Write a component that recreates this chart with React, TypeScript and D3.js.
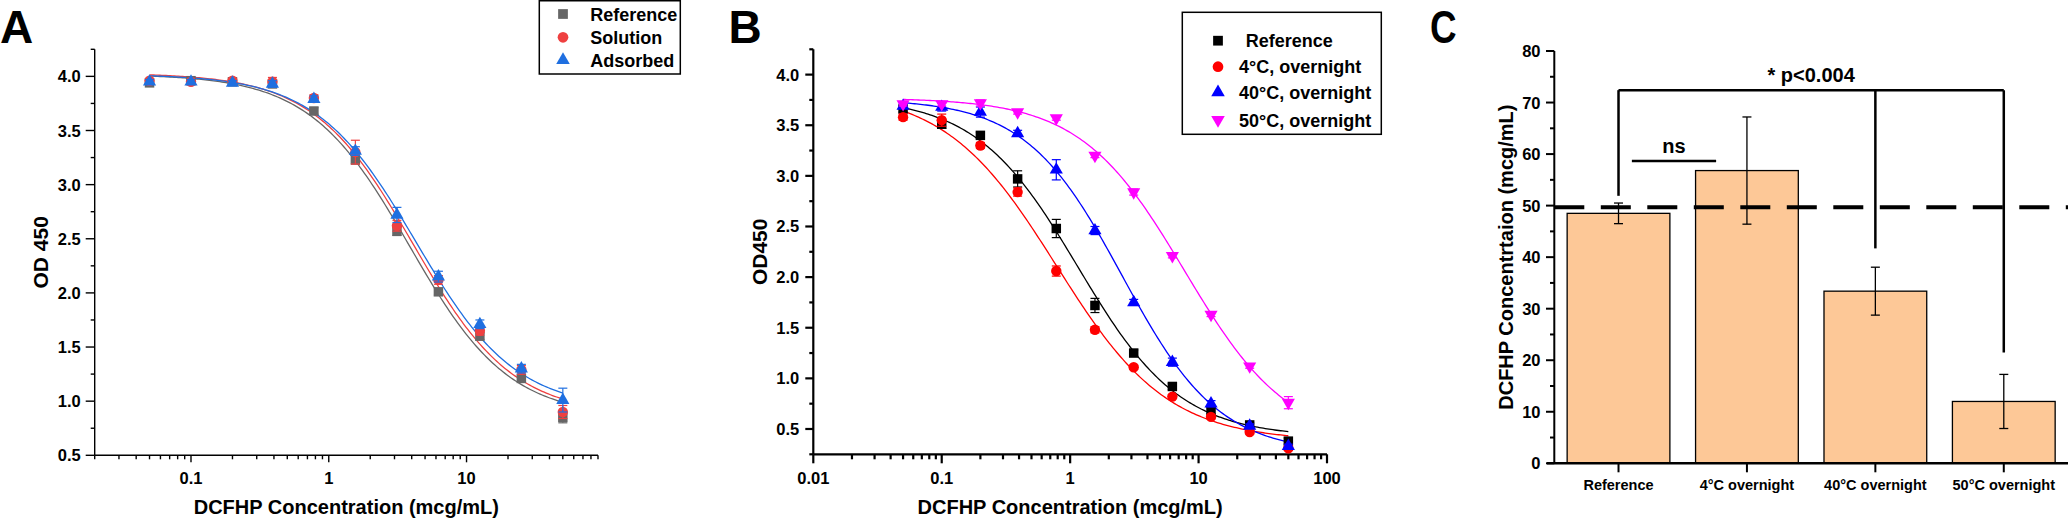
import * as d3 from 'd3';

const FONT = '"Liberation Sans", Arial, Helvetica, sans-serif';

// dilution series shared by panels A and B (mcg/mL)
const conc = [0.05, 0.1, 0.2, 0.39, 0.78, 1.56, 3.125, 6.25, 12.5, 25, 50];

// Panel A: OD 450 by formulation
const aReference = [3.94, 3.96, 3.95, 3.93, 3.68, 3.23, 2.57, 2.01, 1.6, 1.21, 0.85];
const aSolution = [3.96, 3.95, 3.96, 3.95, 3.8, 3.3, 2.62, 2.12, 1.65, 1.29, 0.9];
const aAdsorbed = [3.95, 3.95, 3.94, 3.93, 3.79, 3.31, 2.72, 2.15, 1.71, 1.3, 1.01];
const aReferenceErr = [0.02, 0.02, 0.02, 0.03, 0.03, 0.04, 0.04, 0.03, 0.03, 0.03, 0.05];
const aSolutionErr = [0.02, 0.02, 0.02, 0.04, 0.03, 0.11, 0.05, 0.04, 0.04, 0.04, 0.06];
const aAdsorbedErr = [0.02, 0.02, 0.02, 0.03, 0.03, 0.04, 0.07, 0.05, 0.04, 0.04, 0.11];
// 4PL fit parameters: [top, bottom, EC50, hill]
const aReferenceFit = [4.02, 0.85, 3.85, 1.2];
const aSolutionFit = [4.03, 0.87, 4.1, 1.2];
const aAdsorbedFit = [4.02, 0.92, 4.3, 1.2];

// Panel B: OD450 after overnight storage
const bReference = [3.66, 3.51, 3.4, 2.97, 2.48, 1.72, 1.25, 0.92, 0.68, 0.54, 0.38];
const b4C = [3.58, 3.55, 3.3, 2.84, 2.06, 1.48, 1.11, 0.82, 0.62, 0.47, 0.31];
const b40C = [3.69, 3.68, 3.63, 3.42, 3.06, 2.46, 1.75, 1.16, 0.75, 0.53, 0.33];
const b50C = [3.71, 3.71, 3.72, 3.63, 3.57, 3.2, 2.84, 2.21, 1.63, 1.12, 0.76];
const bReferenceErr = [0.03, 0.04, 0.03, 0.08, 0.09, 0.07, 0.03, 0.03, 0.03, 0.02, 0.03];
const b4CErr = [0.03, 0.06, 0.03, 0.04, 0.05, 0.03, 0.02, 0.02, 0.02, 0.02, 0.02];
const b40CErr = [0.02, 0.04, 0.05, 0.03, 0.1, 0.04, 0.03, 0.04, 0.03, 0.02, 0.02];
const b50CErr = [0.02, 0.02, 0.03, 0.02, 0.02, 0.02, 0.03, 0.02, 0.02, 0.02, 0.06];
const bReferenceFit = [3.78, 0.42, 1.15, 1.09];
const b4CFit = [3.85, 0.38, 0.78, 1.0];
const b40CFit = [3.76, 0.26, 2.55, 1.15];
const b50CFit = [3.77, 0.35, 7.8, 1.07];

const aXTicks = [0.1, 1, 10];
const bXTicks = [0.01, 0.1, 1, 10, 100];
const aYTicks = [0.5, 1.0, 1.5, 2.0, 2.5, 3.0, 3.5, 4.0];
const bYTicks = [0.5, 1.0, 1.5, 2.0, 2.5, 3.0, 3.5, 4.0];

// Panel C: recovered DCFHP concentration
const cCategories = ['Reference', '4°C overnight', '40°C overnight', '50°C overnight'];
const cValues = [48.5, 56.8, 33.4, 12.0];
const cErrors = [2.0, 10.4, 4.65, 5.25];
const cCutoff = 49.7;
const cYTicks = [0, 10, 20, 30, 40, 50, 60, 70, 80];
const cBracketTop = 72.4;
const cBracketDrops = [51.9, 41.7, 21.5]; // Reference, 40°C, 50°C
const cNsLevel = 58.65;

const fourPL = (p: number[], x: number) => p[1] + (p[0] - p[1]) / (1 + Math.pow(x / p[2], p[3]));

const symbolPath = (shape: string, size: number) => {
  const type = shape === 'square' ? d3.symbolSquare : shape === 'circle' ? d3.symbolCircle : d3.symbolTriangle;
  return d3.symbol().type(type).size(size)() as string;
};

const Marker = ({ shape, x, y, color, size }: any) => (
  <path
    d={symbolPath(shape, size)}
    transform={`translate(${x},${y})${shape === 'down' ? ' rotate(180)' : ''}`}
    fill={color}
  />
);

const isDecade = (t: number) => Math.abs(Math.log10(t) - Math.round(Math.log10(t))) < 1e-6;

function CurvePanel({ x, y, series, xTicks, yTicks, yMinorStep, label, labelX, yLabel, yLabelX, lw, xMajLen, xMinLen, yMajLen, yMinLen }: any) {
  const [x0, x1] = x.range();
  const [yb, yt] = y.range();
  const [d0, d1] = y.domain();
  const yMinor = d3.range(d0, d1 + 1e-6, yMinorStep).filter((v: number) => !yTicks.some((t: number) => Math.abs(t - v) < 1e-6));
  // sample the fitted curve across the measured range
  const lo = Math.log10(conc[0]);
  const hi = Math.log10(conc[conc.length - 1]);
  const samples = d3.range(0, 201).map((i) => Math.pow(10, lo + (i / 200) * (hi - lo)));
  return (
    <g fontFamily={FONT} fontWeight="bold">
      <text x={labelX} y={43} fontSize={46}>{label}</text>
      {/* axes */}
      <g stroke="#000" strokeWidth={lw}>
        <line x1={x0} x2={x0} y1={yb} y2={yt} />
        <line x1={x0} x2={x1} y1={yb} y2={yb} />
        {x.ticks().map((t: number, i: number) => (
          <line key={i} x1={x(t)} x2={x(t)} y1={yb} y2={yb + (isDecade(t) ? xMajLen : xMinLen)} />
        ))}
        {yTicks.map((t: number) => (
          <line key={t} x1={x0 - yMajLen} x2={x0} y1={y(t)} y2={y(t)} />
        ))}
        {yMinor.map((t: number) => (
          <line key={t} x1={x0 - yMinLen} x2={x0} y1={y(t)} y2={y(t)} />
        ))}
      </g>
      {yTicks.map((t: number) => (
        <text key={t} x={x0 - 14} y={y(t) + 6} fontSize={16.5} textAnchor="end">{d3.format('.1f')(t)}</text>
      ))}
      {xTicks.map((t: number) => (
        <text key={t} x={x(t)} y={483.5} fontSize={16.5} textAnchor="middle">{String(t)}</text>
      ))}
      <text x={(x0 + x1) / 2} y={514} fontSize={20} textAnchor="middle">DCFHP Concentration (mcg/mL)</text>
      <text transform={`translate(${yLabelX},${(yb + yt) / 2}) rotate(-90)`} dy="0.36em" fontSize={21} textAnchor="middle">{yLabel}</text>
      {/* fits */}
      {series.map((s: any) => (
        <path
          key={s.name + 'fit'}
          d={d3.line<number>().x((c) => x(c)).y((c) => y(fourPL(s.fit, c)))(samples) as string}
          fill="none"
          stroke={s.color}
          strokeWidth={1.3}
        />
      ))}
      {/* points with error bars */}
      {series.map((s: any) => (
        <g key={s.name}>
          {conc.map((c, i) => {
            const px = x(c);
            const eh = y(s.values[i] + s.errors[i]);
            const el = y(s.values[i] - s.errors[i]);
            return (
              <g key={i} stroke={s.color} strokeWidth={1.2}>
                <line x1={px} x2={px} y1={eh} y2={el} />
                <line x1={px - 4.5} x2={px + 4.5} y1={eh} y2={eh} />
                <line x1={px - 4.5} x2={px + 4.5} y1={el} y2={el} />
              </g>
            );
          })}
          {conc.map((c, i) => (
            <Marker key={i} shape={s.shape} x={x(c)} y={y(s.values[i])} color={s.color} size={s.shape === 'square' ? 90 : s.shape === 'circle' ? 85 : 75} />
          ))}
        </g>
      ))}
    </g>
  );
}

function Legend({ series, x0, x1, y0, y1, markerX, textX, rows, textOffsets }: any) {
  return (
    <g fontFamily={FONT} fontWeight="bold" fontSize={18}>
      <rect x={x0} y={y0} width={x1 - x0} height={y1 - y0} fill="#fff" stroke="#000" strokeWidth={1.5} />
      {series.map((s: any, i: number) => (
        <g key={s.name}>
          <Marker shape={s.shape} x={markerX} y={rows[i]} color={s.color} size={s.shape === 'square' ? 95 : s.shape === 'circle' ? 90 : 80} />
          <text x={textX + (textOffsets ? textOffsets[i] : 0)} y={rows[i] + 6.5}>{s.name}</text>
        </g>
      ))}
    </g>
  );
}

function BarPanel() {
  const x = d3.scaleBand().domain(cCategories).range([1554.3, 2068]).paddingInner(0.2).paddingOuter(0.1);
  const y = d3.scaleLinear().domain([0, 80]).range([463.3, 51]);
  const bw = x.bandwidth();
  const cx = (c: string) => (x(c) as number) + bw / 2;
  const yMinor = d3.range(5, 80, 10);
  const nsX1 = (x(cCategories[0]) as number) + bw * 0.63;
  const nsX2 = (x(cCategories[1]) as number) + bw * 0.2;
  const dropCats = [cCategories[0], cCategories[2], cCategories[3]];
  return (
    <g fontFamily={FONT} fontWeight="bold">
      <text transform="translate(1430,43) scale(0.8,1)" fontSize={46}>C</text>
      {cCategories.map((c, i) => (
        <rect key={c} x={x(c)} y={y(cValues[i])} width={bw} height={y(0) - y(cValues[i])} fill="#fdc897" stroke="#000" strokeWidth={1.3} />
      ))}
      {cCategories.map((c, i) => {
        const eh = y(cValues[i] + cErrors[i]);
        const el = y(cValues[i] - cErrors[i]);
        return (
          <g key={c} stroke="#000" strokeWidth={1.3}>
            <line x1={cx(c)} x2={cx(c)} y1={eh} y2={el} />
            <line x1={cx(c) - 4.5} x2={cx(c) + 4.5} y1={eh} y2={eh} />
            <line x1={cx(c) - 4.5} x2={cx(c) + 4.5} y1={el} y2={el} />
          </g>
        );
      })}
      <line x1={1554.3} x2={2068} y1={y(cCutoff)} y2={y(cCutoff)} stroke="#000" strokeWidth={4} strokeDasharray="30 16.5" />
      {/* significance brackets */}
      <g stroke="#000" strokeWidth={2.5} fill="none">
        <line x1={cx(cCategories[0])} x2={cx(cCategories[3])} y1={y(cBracketTop)} y2={y(cBracketTop)} />
        {dropCats.map((c, i) => (
          <line key={c} x1={cx(c)} x2={cx(c)} y1={y(cBracketTop)} y2={y(cBracketDrops[i])} />
        ))}
        <line x1={nsX1} x2={nsX2} y1={y(cNsLevel)} y2={y(cNsLevel)} />
      </g>
      <text x={(cx(cCategories[1]) + cx(cCategories[2])) / 2} y={y(cBracketTop) - 8.3} fontSize={20} textAnchor="middle">* p&lt;0.004</text>
      <text x={(nsX1 + nsX2) / 2} y={y(cNsLevel) - 8.3} fontSize={20} textAnchor="middle">ns</text>
      {/* axes */}
      <g stroke="#000" strokeWidth={2}>
        <line x1={1554.3} x2={1554.3} y1={y(0)} y2={y(80)} />
        <line x1={1547} x2={2068} y1={y(0)} y2={y(0)} strokeWidth={2.5} />
        {cYTicks.map((t) => (
          <line key={t} x1={1546} x2={1554.3} y1={y(t)} y2={y(t)} />
        ))}
        {yMinor.map((t) => (
          <line key={t} x1={1550} x2={1554.3} y1={y(t)} y2={y(t)} />
        ))}
        {cCategories.map((c) => (
          <line key={c} x1={cx(c)} x2={cx(c)} y1={y(0)} y2={y(0) + 9} />
        ))}
      </g>
      {cYTicks.map((t) => (
        <text key={t} x={1540.5} y={y(t) + 6} fontSize={16.5} textAnchor="end">{t}</text>
      ))}
      {cCategories.map((c) => (
        <text key={c} x={cx(c)} y={490} fontSize={14.5} textAnchor="middle">{c}</text>
      ))}
      <text transform={`translate(1505.7,${(y(0) + y(80)) / 2}) rotate(-90)`} dy="0.36em" fontSize={20} textAnchor="middle">DCFHP Concentrtaion (mcg/mL)</text>
    </g>
  );
}

export default function App() {
  const xA = d3.scaleLog().domain([0.02, 90]).range([94.7, 598]);
  const yA = d3.scaleLinear().domain([0.5, 4.25]).range([455.3, 49.3]);
  const xB = d3.scaleLog().domain([0.01, 100]).range([813.3, 1327]);
  const yB = d3.scaleLinear().domain([0.25, 4.25]).range([454.3, 49.3]);

  const seriesA = [
    { name: 'Reference', values: aReference, errors: aReferenceErr, fit: aReferenceFit, color: '#666666', shape: 'square' },
    { name: 'Solution', values: aSolution, errors: aSolutionErr, fit: aSolutionFit, color: '#ef4040', shape: 'circle' },
    { name: 'Adsorbed', values: aAdsorbed, errors: aAdsorbedErr, fit: aAdsorbedFit, color: '#1f6fe0', shape: 'up' },
  ];
  const seriesB = [
    { name: 'Reference', values: bReference, errors: bReferenceErr, fit: bReferenceFit, color: '#000000', shape: 'square' },
    { name: '4°C, overnight', values: b4C, errors: b4CErr, fit: b4CFit, color: '#ff0000', shape: 'circle' },
    { name: '40°C, overnight', values: b40C, errors: b40CErr, fit: b40CFit, color: '#0000ff', shape: 'up' },
    { name: '50°C, overnight', values: b50C, errors: b50CErr, fit: b50CFit, color: '#ff00ff', shape: 'down' },
  ];

  return (
    <svg width={2068} height={520} style={{ position: 'absolute', left: 0, top: 0, background: '#fff' }}>
      <rect width={2068} height={520} fill="#fff" />
      <CurvePanel
        x={xA} y={yA} series={seriesA} xTicks={aXTicks} yTicks={aYTicks} yMinorStep={0.25}
        label="A" labelX={0} yLabel="OD 450" yLabelX={40.7} lw={1.4}
        xMajLen={7} xMinLen={4} yMajLen={9} yMinLen={4}
      />
      <Legend series={seriesA} x0={539.3} x1={680.3} y0={0.75} y1={74} markerX={563} textX={590.3} rows={[14, 37.3, 60]} />
      <CurvePanel
        x={xB} y={yB} series={seriesB} xTicks={bXTicks} yTicks={bYTicks} yMinorStep={0.25}
        label="B" labelX={728.5} yLabel="OD450" yLabelX={759.7} lw={2.2}
        xMajLen={9} xMinLen={5} yMajLen={8} yMinLen={4}
      />
      <Legend series={seriesB} x0={1182.3} x1={1381.3} y0={12.3} y1={134.3} markerX={1218} textX={1239} rows={[40.7, 66.7, 92.3, 120]} textOffsets={[6.7, 0, 0, 0]} />
      <BarPanel />
    </svg>
  );
}
